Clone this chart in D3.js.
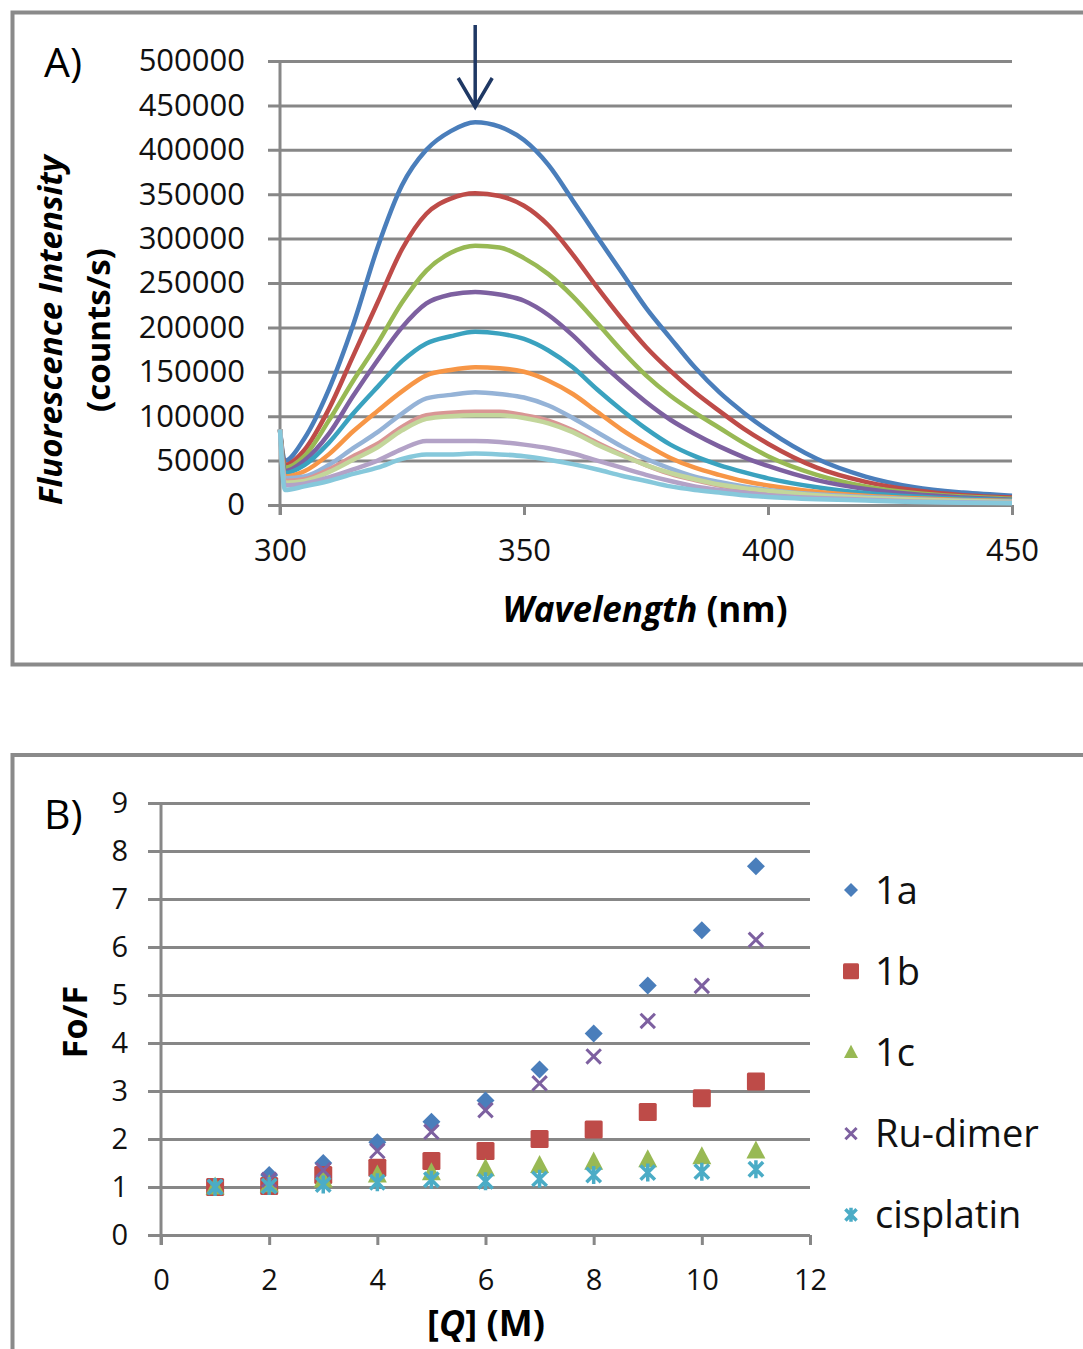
<!DOCTYPE html>
<html>
<head>
<meta charset="utf-8">
<script src="https://cdn.jsdelivr.net/npm/d3@7"></script>
<style>
  body { margin: 0; background: #fff; }
  svg { display: block; font-family: "Open Sans", sans-serif; }
</style>
</head>
<body>
<div id="chart"></div>
<script>
// ---- panel A: fluorescence spectra (one array per titration step) ----
const wavelength = [300, 301, 305, 310, 315, 320, 325, 330, 335, 340, 345, 350, 355, 360, 365, 370, 375, 380, 385, 390, 395, 400, 410, 420, 430, 440, 450];

const spec0  = [85000, 50000, 75000, 130000, 203000, 290000, 360000, 400000, 421000, 431000, 426000, 411000, 383000, 343000, 302000, 262000, 222000, 188000, 155000, 127000, 104000, 84000, 52000, 32000, 20000, 14000, 10500];
const spec1  = [85000, 45000, 62000, 108000, 168000, 228000, 288000, 328000, 345000, 351000, 348000, 337000, 315000, 282000, 245000, 210000, 178000, 151000, 127000, 106000, 86000, 69000, 42000, 26000, 16500, 11000, 8500];
const spec2  = [85000, 42000, 55000, 95000, 140000, 182000, 228000, 264000, 284000, 292000, 290000, 278000, 260000, 235000, 205000, 174000, 146000, 123000, 104000, 87000, 70000, 55000, 34000, 21000, 13500, 9500, 7000];
const spec3  = [85000, 38000, 50000, 80000, 123000, 163000, 200000, 227000, 237000, 240000, 237000, 230000, 214000, 191000, 164000, 139000, 116000, 96000, 80000, 66000, 54000, 44000, 28000, 18000, 12000, 8500, 6000];
const spec4  = [85000, 36000, 45000, 70000, 103000, 133000, 162000, 182000, 190000, 195000, 193000, 187000, 174000, 155000, 130000, 107000, 86000, 68000, 55000, 45000, 37000, 30000, 20000, 13500, 9500, 7000, 5500];
const spec5  = [85000, 32000, 38000, 57000, 83000, 106000, 128000, 146000, 152000, 155000, 154000, 150000, 140000, 125000, 105000, 85000, 68000, 53000, 42000, 34000, 27000, 22000, 15000, 10500, 7500, 5500, 4500];
const spec6  = [85000, 30000, 32000, 45000, 64000, 82000, 103000, 120000, 124000, 127000, 125000, 121000, 112000, 98000, 82000, 66000, 52000, 41000, 32000, 26000, 21000, 17000, 12000, 9000, 6500, 5000, 4000];
const spec7  = [85000, 27000, 29000, 40000, 55000, 69000, 88000, 101000, 104000, 105000, 105000, 101000, 95000, 84000, 70000, 57000, 45000, 35000, 28000, 22000, 18000, 15000, 10000, 7000, 5000, 4000, 3000];
const spec8  = [85000, 25000, 27000, 37000, 51000, 65000, 84000, 97000, 100000, 101000, 101000, 98000, 92000, 82000, 68000, 56000, 45000, 36000, 29000, 23000, 19000, 16000, 11000, 8000, 6000, 4500, 3500];
const spec9  = [85000, 22000, 24000, 31000, 40000, 50000, 63000, 72000, 72000, 72000, 71000, 68000, 64000, 58000, 50000, 42000, 34000, 27000, 21000, 17000, 14000, 11000, 8000, 6000, 4000, 3000, 2500];
const spec10 = [85000, 17000, 21000, 27000, 35000, 42000, 52000, 57000, 57000, 58000, 57000, 55000, 51000, 46000, 40000, 33000, 27000, 21000, 17000, 14000, 11000, 9000, 6500, 5000, 3500, 2500, 2000];

const spectra = [spec0, spec1, spec2, spec3, spec4, spec5, spec6, spec7, spec8, spec9, spec10];
const specColors = ["#4a7ebb", "#be4b48", "#98b954", "#7d60a0", "#3aa2bf", "#f79646",
                    "#95b3d7", "#d99694", "#c3d69b", "#b3a2c7", "#86c8db"];
const yTicksA = [0, 50000, 100000, 150000, 200000, 250000, 300000, 350000, 400000, 450000, 500000];
const xTicksA = [300, 350, 400, 450];

// ---- panel B: Stern-Volmer ----
const conc = [1, 2, 3, 4, 5, 6, 7, 8, 9, 10, 11];
const fo1a       = [1.0, 1.25, 1.5, 1.93, 2.36, 2.8, 3.45, 4.2, 5.2, 6.35, 7.68];
const fo1b       = [1.0, 1.02, 1.25, 1.4, 1.54, 1.75, 2.0, 2.2, 2.56, 2.85, 3.2];
const fo1c       = [1.0, 1.05, 1.15, 1.25, 1.3, 1.38, 1.45, 1.52, 1.57, 1.63, 1.75];
const foRuDimer  = [1.0, 1.15, 1.35, 1.75, 2.15, 2.6, 3.16, 3.72, 4.46, 5.19, 6.15];
const foCisplatin= [1.0, 1.02, 1.05, 1.1, 1.15, 1.12, 1.17, 1.25, 1.3, 1.32, 1.37];
const seriesNames = ["1a", "1b", "1c", "Ru-dimer", "cisplatin"];
const seriesColors = ["#4a7ebb", "#be4b48", "#98b954", "#7d60a0", "#4bacc6"];
const seriesShapes = ["diamond", "square", "triangle", "x", "star"];
const yTicksB = [0, 1, 2, 3, 4, 5, 6, 7, 8, 9];
const xTicksB = [0, 2, 4, 6, 8, 10, 12];

const W = 1083, H = 1349;
const grid = "#878787";

const svg = d3.select("#chart").append("svg")
    .attr("width", W)
    .attr("height", H);

// panel frames
svg.append("rect")
    .attr("x", 12.5).attr("y", 12.5).attr("width", 1100).attr("height", 652)
    .attr("fill", "none").attr("stroke", "#8a8a8a").attr("stroke-width", 4);
svg.append("rect")
    .attr("x", 12.5).attr("y", 755).attr("width", 1100).attr("height", 700)
    .attr("fill", "none").attr("stroke", "#8a8a8a").attr("stroke-width", 4);

// ================= panel A =================
const xA = d3.scaleLinear().domain([300, 450]).range([280, 1012]);
const yA = d3.scaleLinear().domain([0, 500000]).range([505, 61]);

// horizontal gridlines (and left tick stubs)
svg.append("g")
    .attr("transform", "translate(1012,0)")
    .call(d3.axisLeft(yA).tickValues(yTicksA).tickSize(1012 - 268).tickFormat(""))
    .call(g => g.select(".domain").remove())
    .call(g => g.selectAll("line").attr("stroke", grid).attr("stroke-width", 3));

// y tick labels
svg.append("g")
    .attr("transform", "translate(268,0)")
    .call(d3.axisLeft(yA).tickValues(yTicksA).tickSize(0).tickPadding(23).tickFormat(d3.format("d")))
    .call(g => g.select(".domain").remove())
    .call(g => g.selectAll("text").attr("font-size", 31).attr("font-family", "Open Sans").attr("fill", "#111"));

// x axis ticks + labels
svg.append("g")
    .attr("transform", "translate(0,505)")
    .call(d3.axisBottom(xA).tickValues(xTicksA).tickSize(10).tickPadding(24).tickFormat(d3.format("d")))
    .call(g => g.select(".domain").remove())
    .call(g => g.selectAll("line").attr("stroke", grid).attr("stroke-width", 3))
    .call(g => g.selectAll("text").attr("font-size", 31).attr("font-family", "Open Sans").attr("fill", "#111"));

// y axis line
svg.append("line")
    .attr("x1", xA(300)).attr("x2", xA(300))
    .attr("y1", yA(500000)).attr("y2", 515)
    .attr("stroke", grid).attr("stroke-width", 3);

// spectra
const line = d3.line()
    .x((d, i) => xA(wavelength[i]))
    .y(d => yA(d))
    .curve(d3.curveMonotoneX);

svg.append("g")
  .selectAll("path")
  .data(spectra)
  .join("path")
    .attr("d", line)
    .attr("fill", "none")
    .attr("stroke", (d, i) => specColors[i])
    .attr("stroke-width", 4.5)
    .attr("stroke-linejoin", "round");

// arrow at the band maximum
const arrowX = xA(340);
svg.append("path")
    .attr("d", `M${arrowX},25 L${arrowX},106 M${arrowX - 17},78 L${arrowX},107 L${arrowX + 17},78`)
    .attr("fill", "none")
    .attr("stroke", "#1f3864")
    .attr("stroke-width", 3.5);

// titles A
svg.append("text")
    .attr("x", 44).attr("y", 77)
    .attr("font-size", 41)
    .text("A)");

const yTitleA = svg.append("g").attr("transform", "translate(62,330) rotate(-90)");
yTitleA.append("text")
    .attr("text-anchor", "middle")
    .attr("font-size", 33).attr("font-weight", "bold").attr("font-style", "italic")
    .text("Fluorescence Intensity");
yTitleA.append("text")
    .attr("y", 48)
    .attr("text-anchor", "middle")
    .attr("font-size", 33).attr("font-weight", "bold")
    .text("(counts/s)");

const xTitleA = svg.append("text")
    .attr("x", 645).attr("y", 622)
    .attr("text-anchor", "middle")
    .attr("font-size", 35).attr("font-weight", "bold");
xTitleA.append("tspan").attr("font-style", "italic").text("Wavelength");
xTitleA.append("tspan").text(" (nm)");

// ================= panel B =================
const xB = d3.scaleLinear().domain([0, 12]).range([161, 810]);
const yB = d3.scaleLinear().domain([0, 9]).range([1235, 803]);

svg.append("g")
    .attr("transform", "translate(810,0)")
    .call(d3.axisLeft(yB).tickValues(yTicksB).tickSize(810 - 148).tickFormat(""))
    .call(g => g.select(".domain").remove())
    .call(g => g.selectAll("line").attr("stroke", grid).attr("stroke-width", 3));

svg.append("g")
    .attr("transform", "translate(148,0)")
    .call(d3.axisLeft(yB).tickValues(yTicksB).tickSize(0).tickPadding(20).tickFormat(d3.format("d")))
    .call(g => g.select(".domain").remove())
    .call(g => g.selectAll("text").attr("font-size", 29).attr("font-family", "Open Sans").attr("fill", "#111"));

svg.append("g")
    .attr("transform", "translate(0,1235)")
    .call(d3.axisBottom(xB).tickValues(xTicksB).tickSize(10).tickPadding(24).tickFormat(d3.format("d")))
    .call(g => g.select(".domain").remove())
    .call(g => g.selectAll("line").attr("stroke", grid).attr("stroke-width", 3))
    .call(g => g.selectAll("text").attr("font-size", 29).attr("font-family", "Open Sans").attr("fill", "#111"));

svg.append("line")
    .attr("x1", xB(0)).attr("x2", xB(0))
    .attr("y1", yB(9)).attr("y2", 1245)
    .attr("stroke", grid).attr("stroke-width", 3);

// marker drawing
function marker(sel, shape, color, s) {
  if (shape === "diamond") {
    sel.append("path").attr("d", `M0,${-s}L${s},0L0,${s}L${-s},0Z`).attr("fill", color);
  } else if (shape === "square") {
    sel.append("rect").attr("x", -s).attr("y", -s).attr("width", 2 * s).attr("height", 2 * s)
      .attr("rx", 1.5).attr("fill", color);
  } else if (shape === "triangle") {
    sel.append("path").attr("d", `M0,${-s * 1.1}L${s},${s * 0.8}L${-s},${s * 0.8}Z`).attr("fill", color);
  } else if (shape === "x") {
    sel.append("path").attr("d", `M${-s * 0.8},${-s * 0.8}L${s * 0.8},${s * 0.8}M${-s * 0.8},${s * 0.8}L${s * 0.8},${-s * 0.8}`)
      .attr("stroke", color).attr("stroke-width", 3).attr("fill", "none");
  } else {
    sel.append("path").attr("d", `M${-s * 0.8},${-s * 0.8}L${s * 0.8},${s * 0.8}M${-s * 0.8},${s * 0.8}L${s * 0.8},${-s * 0.8}M0,${-s}L0,${s}`)
      .attr("stroke", color).attr("stroke-width", 3.5).attr("fill", "none");
  }
}

const seriesB = [fo1a, fo1b, fo1c, foRuDimer, foCisplatin];
const sizes = [9, 9, 9.5, 9, 9];

seriesB.forEach((vals, si) => {
  svg.append("g")
    .selectAll("g")
    .data(vals)
    .join("g")
      .attr("transform", (d, i) => `translate(${xB(conc[i])},${yB(d)})`)
      .each(function () { marker(d3.select(this), seriesShapes[si], seriesColors[si], sizes[si]); });
});

// legend
const legend = svg.append("g").attr("transform", "translate(851,890)");
seriesNames.forEach((name, i) => {
  const row = legend.append("g").attr("transform", `translate(0,${i * 81.2})`);
  marker(row, seriesShapes[i], seriesColors[i], i === 1 ? 8 : 7);
  row.append("text")
    .attr("x", 24).attr("dy", "0.36em")
    .attr("font-size", 38)
    .attr("fill", "#111")
    .text(name);
});

// titles B
svg.append("text")
    .attr("x", 44).attr("y", 829)
    .attr("font-size", 41)
    .text("B)");

svg.append("text")
    .attr("transform", "translate(87,1022) rotate(-90)")
    .attr("text-anchor", "middle")
    .attr("font-size", 34).attr("font-weight", "bold")
    .text("Fo/F");

const xTitleB = svg.append("text")
    .attr("x", 486).attr("y", 1336)
    .attr("text-anchor", "middle")
    .attr("font-size", 36).attr("font-weight", "bold");
xTitleB.append("tspan").text("[");
xTitleB.append("tspan").attr("font-style", "italic").text("Q");
xTitleB.append("tspan").text("] (M)");
</script>
</body>
</html>
